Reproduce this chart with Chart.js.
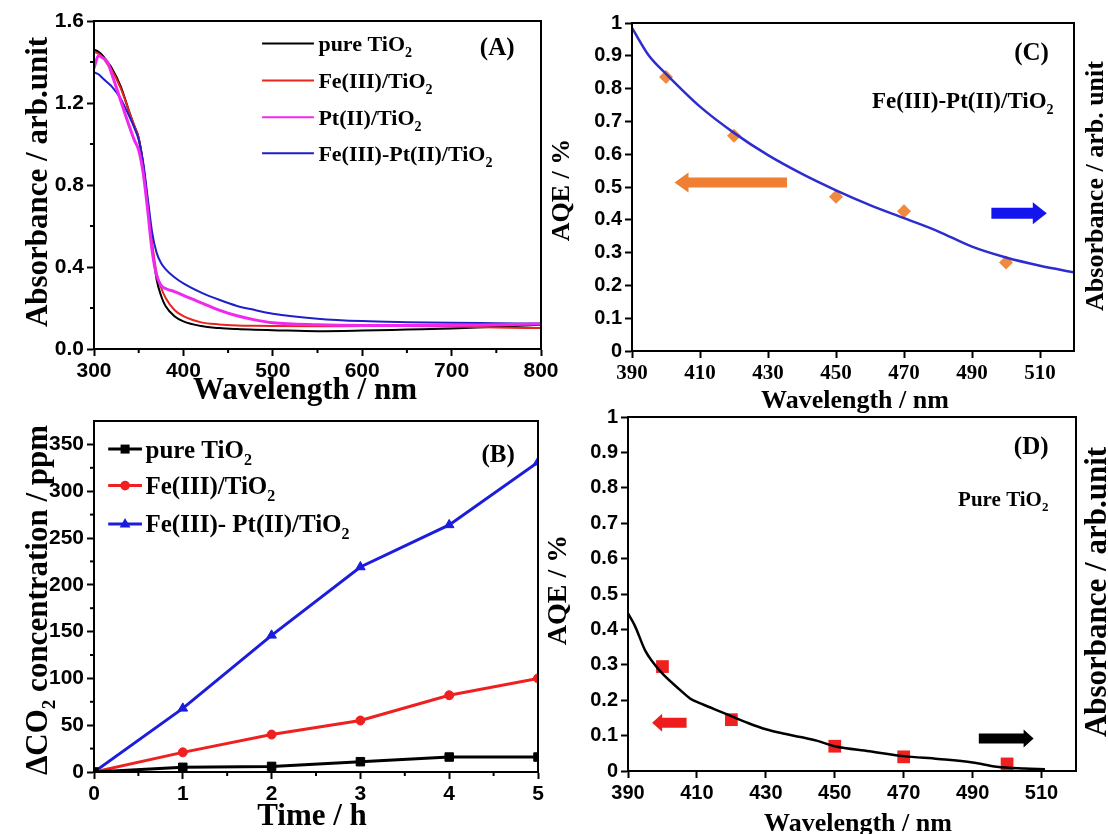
<!DOCTYPE html>
<html>
<head>
<meta charset="utf-8">
<script src="https://cdn.jsdelivr.net/npm/chart.js@4.4.1/dist/chart.umd.min.js"></script>
<style>
  html, body { margin: 0; padding: 0; background: #fff; }
  #wrap { position: relative; width: 1108px; height: 834px; overflow: hidden; background: #fff; }
  #wrap canvas { position: absolute; left: 0; top: 0; }
</style>
</head>
<body>
<div id="wrap">
  <canvas id="chartA" width="1108" height="834"></canvas>
  <canvas id="chartB" width="1108" height="834"></canvas>
  <canvas id="chartC" width="1108" height="834"></canvas>
  <canvas id="chartD" width="1108" height="834"></canvas>
</div>
<script>
const SANS = "'Liberation Sans', Arial, sans-serif";
const SERIF = "'Liberation Serif', 'Times New Roman', serif";

// (A) absorbance spectra
const wavelengthA = [300, 305, 310, 315, 320, 330, 340, 345, 350, 355, 360, 365, 370, 375, 380, 390, 400, 420, 440, 460, 480, 500, 550, 600, 650, 700, 750, 800];
const absPure = [1.46, 1.45, 1.43, 1.40, 1.37, 1.28, 1.15, 1.09, 1.03, 0.90, 0.70, 0.50, 0.34, 0.26, 0.21, 0.16, 0.135, 0.112, 0.102, 0.097, 0.094, 0.092, 0.087, 0.090, 0.095, 0.100, 0.108, 0.118];
const absFe = [1.45, 1.44, 1.42, 1.39, 1.36, 1.27, 1.15, 1.09, 1.03, 0.90, 0.72, 0.52, 0.37, 0.30, 0.25, 0.19, 0.16, 0.13, 0.12, 0.115, 0.113, 0.112, 0.111, 0.112, 0.112, 0.110, 0.105, 0.102];
const absPt = [1.37, 1.43, 1.42, 1.40, 1.34, 1.21, 1.08, 1.02, 0.97, 0.86, 0.68, 0.48, 0.36, 0.31, 0.295, 0.28, 0.262, 0.225, 0.19, 0.162, 0.142, 0.128, 0.118, 0.115, 0.115, 0.116, 0.118, 0.122];
const absFePt = [1.35, 1.34, 1.32, 1.30, 1.28, 1.22, 1.13, 1.08, 1.02, 0.91, 0.74, 0.57, 0.47, 0.42, 0.39, 0.35, 0.32, 0.275, 0.24, 0.21, 0.19, 0.172, 0.148, 0.136, 0.131, 0.128, 0.126, 0.124];
const ticksAX = [300, 400, 500, 600, 700, 800];
const minorAX = [350, 450, 550, 650, 750];
const ticksAY = [0, 0.4, 0.8, 1.2, 1.6];
const minorAY = [0.2, 0.6, 1.0, 1.4];

// (B) CO2 evolution
const timeB = [0, 1, 2, 3, 4, 5];
const co2Pure = [0, 5, 6, 11, 16, 16];
const co2Fe = [0, 21, 40, 55, 82, 100];
const co2FePt = [0, 68, 146, 219, 264, 331];
const ticksBX = [0, 1, 2, 3, 4, 5];
const minorBX = [0.5, 1.5, 2.5, 3.5, 4.5];
const ticksBY = [0, 50, 100, 150, 200, 250, 300, 350];
const minorBY = [25, 75, 125, 175, 225, 275, 325];

// (C) and (D) AQE vs wavelength
const aqeWavelength = [400, 420, 450, 470, 500];
const aqeFePt = [0.835, 0.656, 0.47, 0.426, 0.27];
const aqePure = [0.295, 0.145, 0.07, 0.04, 0.02];
const wavelengthC = [390, 395, 400, 410, 420, 430, 440, 450, 460, 470, 480, 490, 500, 510, 520];
const absCurveC = [0.985, 0.9, 0.845, 0.745, 0.665, 0.597, 0.54, 0.49, 0.445, 0.405, 0.365, 0.318, 0.285, 0.26, 0.24];
const wavelengthD = [390, 392, 395, 397, 400, 405, 408, 410, 415, 420, 425, 430, 435, 440, 445, 450, 460, 470, 480, 490, 497, 505, 511];
const absCurveD = [0.445, 0.41, 0.34, 0.31, 0.275, 0.23, 0.205, 0.195, 0.175, 0.155, 0.135, 0.118, 0.106, 0.096, 0.085, 0.07, 0.056, 0.042, 0.034, 0.024, 0.012, 0.007, 0.005];
const ticksWX = [390, 410, 430, 450, 470, 490, 510];
const ticksAqeY = [0, 0.1, 0.2, 0.3, 0.4, 0.5, 0.6, 0.7, 0.8, 0.9, 1];

const xy = (xs, ys) => xs.map((x, i) => ({ x: x, y: ys[i] }));

// text with "_2" style subscripts
function parseRich(s) {
  const parts = [];
  let buf = '';
  for (let i = 0; i < s.length; i++) {
    if (s[i] === '_' && i + 1 < s.length) {
      if (buf) parts.push({ t: buf });
      parts.push({ t: s[i + 1], sub: true });
      buf = '';
      i++;
    } else buf += s[i];
  }
  if (buf) parts.push({ t: buf });
  return parts;
}

function drawRich(ctx, s, x, y, size, align, family) {
  const parts = parseRich(s);
  const subSize = Math.round(size * 0.62);
  let w = 0;
  parts.forEach(p => {
    ctx.font = 'bold ' + (p.sub ? subSize : size) + 'px ' + (family || SERIF);
    p.w = ctx.measureText(p.t).width;
    w += p.w;
  });
  let cx = align === 'center' ? x - w / 2 : align === 'right' ? x - w : x;
  const base = y + size * 0.34;
  ctx.fillStyle = '#000';
  ctx.textBaseline = 'alphabetic';
  ctx.textAlign = 'left';
  parts.forEach(p => {
    ctx.font = 'bold ' + (p.sub ? subSize : size) + 'px ' + (family || SERIF);
    ctx.fillText(p.t, cx, p.sub ? base + size * 0.28 : base);
    cx += p.w;
  });
}

function drawMarker(ctx, style, x, y, r, color) {
  ctx.fillStyle = color;
  ctx.beginPath();
  if (style === 'rect') ctx.rect(x - r * 0.75, y - r * 0.75, r * 1.5, r * 1.5);
  else if (style === 'triangle') {
    ctx.moveTo(x, y - r);
    ctx.lineTo(x + r * 0.9, y + r * 0.6);
    ctx.lineTo(x - r * 0.9, y + r * 0.6);
    ctx.closePath();
  } else ctx.arc(x, y, r * 0.8, 0, Math.PI * 2);
  ctx.fill();
}

function drawArrow(ctx, xs, ys, a) {
  const tip = xs.getPixelForValue(a.tip);
  const tail = xs.getPixelForValue(a.tail);
  const py = ys.getPixelForValue(a.y);
  const dir = tip > tail ? 1 : -1;
  const neck = tip - dir * a.head;
  ctx.fillStyle = a.color;
  ctx.beginPath();
  ctx.moveTo(tail, py - a.body);
  ctx.lineTo(neck, py - a.body);
  ctx.lineTo(neck, py - a.half);
  ctx.lineTo(tip, py);
  ctx.lineTo(neck, py + a.half);
  ctx.lineTo(neck, py + a.body);
  ctx.lineTo(tail, py + a.body);
  ctx.closePath();
  ctx.fill();
}

const decor = {};

const decorPlugin = {
  id: 'decor',
  afterDatasetsDraw(chart) {
    const d = decor[chart.canvas.id];
    if (!d) return;
    const ctx = chart.ctx;
    const a = chart.chartArea;
    const xs = chart.scales.x, ys = chart.scales.y;
    ctx.save();
    // frame
    ctx.strokeStyle = '#000';
    ctx.lineWidth = 2;
    ctx.strokeRect(a.left, a.top, a.right - a.left, a.bottom - a.top);
    // minor ticks, outward
    (d.minorX || []).forEach(v => {
      const px = xs.getPixelForValue(v);
      ctx.beginPath(); ctx.moveTo(px, a.bottom); ctx.lineTo(px, a.bottom + 4); ctx.stroke();
    });
    (d.minorY || []).forEach(v => {
      const py = ys.getPixelForValue(v);
      ctx.beginPath(); ctx.moveTo(a.left, py); ctx.lineTo(a.left - 4, py); ctx.stroke();
    });
    // axis titles (page pixels)
    (d.titles || []).forEach(t => {
      if (t.rot) {
        ctx.save();
        ctx.translate(t.x, t.y);
        ctx.rotate(-Math.PI / 2);
        drawRich(ctx, t.s, 0, 0, t.size, 'center');
        ctx.restore();
      } else drawRich(ctx, t.s, t.x, t.y, t.size, 'center');
    });
    // in-plot texts (data units)
    (d.texts || []).forEach(t => {
      drawRich(ctx, t.s, xs.getPixelForValue(t.x), ys.getPixelForValue(t.y), t.size, t.align || 'center');
    });
    (d.arrows || []).forEach(ar => drawArrow(ctx, xs, ys, ar));
    // legend
    if (d.legend) {
      const L = d.legend;
      L.items.forEach((it, i) => {
        const py = ys.getPixelForValue(L.rows[i]);
        const x0 = xs.getPixelForValue(L.x0), x1 = xs.getPixelForValue(L.x1);
        ctx.strokeStyle = it.color;
        ctx.lineWidth = L.lineWidth;
        ctx.beginPath(); ctx.moveTo(x0, py); ctx.lineTo(x1, py); ctx.stroke();
        if (it.marker) drawMarker(ctx, it.marker, (x0 + x1) / 2, py, 6, it.color);
        drawRich(ctx, it.label, xs.getPixelForValue(L.tx), py, L.size, 'left');
      });
    }
    ctx.restore();
  }
};

function axis(o) {
  return {
    type: 'linear',
    min: o.min,
    max: o.max,
    afterBuildTicks: s => { s.ticks = o.ticks.map(v => ({ value: v })); },
    afterFit: s => { if (o.w) s.width = o.w; if (o.h) s.height = o.h; },
    grid: { display: true, drawOnChartArea: false, drawTicks: true, tickLength: 7, tickWidth: 2, tickColor: '#000' },
    border: { display: true, color: '#000', width: 2 },
    ticks: { color: '#000', font: o.font, padding: o.pad || 3, autoSkip: false, maxRotation: 0, callback: o.fmt }
  };
}

// area = page pixel box of the plot area
function makeChart(id, area, datasets, xAxis, yAxis) {
  const yw = 70, xh = 40;
  xAxis.h = xh;
  yAxis.w = yw;
  return new Chart(document.getElementById(id), {
    type: 'line',
    data: { datasets: datasets },
    options: {
      responsive: false,
      animation: false,
      devicePixelRatio: 1,
      layout: { padding: { left: area.l - yw, top: area.t, right: 1108 - area.r, bottom: 834 - area.b - xh } },
      plugins: { legend: { display: false }, tooltip: { enabled: false } },
      scales: { x: axis(xAxis), y: axis(yAxis) }
    },
    plugins: [decorPlugin]
  });
}

const tickSans = size => ({ family: SANS, size: size, weight: 'bold' });
const tickSerif = size => ({ family: SERIF, size: size, weight: 'bold' });
const fmt1 = v => Number(v).toFixed(1);
const fmtAqe = v => String(Math.round(v * 10) / 10);

const lineSet = (data, color, width) => ({
  data: data, borderColor: color, borderWidth: width, pointRadius: 0,
  fill: false, cubicInterpolationMode: 'monotone'
});

// ---------- (A) ----------
decor.chartA = {
  minorX: minorAX, minorY: minorAY,
  titles: [
    { s: 'Absorbance / arb.unit', x: 36, y: 182, rot: true, size: 31 },
    { s: 'Wavelength / nm', x: 305, y: 388, size: 31 }
  ],
  texts: [{ s: '(A)', x: 751, y: 1.474, size: 25 }],
  legend: {
    x0: 488, x1: 546, tx: 551, rows: [1.49, 1.31, 1.13, 0.955], size: 22, lineWidth: 2,
    items: [
      { label: 'pure TiO_2', color: '#000000' },
      { label: 'Fe(III)/TiO_2', color: '#e8241e' },
      { label: 'Pt(II)/TiO_2', color: '#f028f0' },
      { label: 'Fe(III)-Pt(II)/TiO_2', color: '#1f1fc8' }
    ]
  }
};
makeChart('chartA', { l: 94, t: 21, r: 541, b: 349 }, [
  lineSet(xy(wavelengthA, absPt), '#f028f0', 3),
  lineSet(xy(wavelengthA, absFePt), '#1f1fc8', 2),
  lineSet(xy(wavelengthA, absFe), '#e8241e', 2),
  lineSet(xy(wavelengthA, absPure), '#000000', 2)
], { min: 300, max: 800, ticks: ticksAX, font: tickSans(21) },
   { min: 0, max: 1.6, ticks: ticksAY, font: tickSans(21), fmt: fmt1 });

// ---------- (B) ----------
decor.chartB = {
  minorX: minorBX, minorY: minorBY,
  titles: [
    { s: 'ΔCO_2 concentration / ppm', x: 36, y: 600, rot: true, size: 31 },
    { s: 'Time / h', x: 312, y: 814, size: 31 }
  ],
  texts: [{ s: '(B)', x: 4.55, y: 340, size: 25 }],
  legend: {
    x0: 0.16, x1: 0.54, tx: 0.58, rows: [345, 306, 265], size: 25, lineWidth: 3,
    items: [
      { label: 'pure TiO_2', color: '#000000', marker: 'rect' },
      { label: 'Fe(III)/TiO_2', color: '#ee2020', marker: 'circle' },
      { label: 'Fe(III)- Pt(II)/TiO_2', color: '#1c1cdc', marker: 'triangle' }
    ]
  }
};
const markSet = (data, color, style, r) => ({
  data: data, borderColor: color, backgroundColor: color, borderWidth: 3,
  pointStyle: style, pointRadius: r, pointBorderWidth: 1, fill: false, tension: 0
});
makeChart('chartB', { l: 94, t: 421, r: 538, b: 772 }, [
  markSet(xy(timeB, co2Pure), '#000000', 'rect', 6),
  markSet(xy(timeB, co2Fe), '#ee2020', 'circle', 4.5),
  markSet(xy(timeB, co2FePt), '#1c1cdc', 'triangle', 5.5)
], { min: 0, max: 5, ticks: ticksBX, font: tickSans(21) },
   { min: 0, max: 375, ticks: ticksBY, font: tickSans(21) });

// ---------- (C) ----------
decor.chartC = {
  titles: [
    { s: 'AQE / %', x: 560, y: 190, rot: true, size: 26 },
    { s: 'Absorbance / arb. unit', x: 1094, y: 186, rot: true, size: 26 },
    { s: 'Wavelength / nm', x: 855, y: 399, size: 26 }
  ],
  texts: [
    { s: '(C)', x: 507.5, y: 0.913, size: 25 },
    { s: 'Fe(III)-Pt(II)/TiO_2', x: 514, y: 0.766, size: 23, align: 'right' }
  ],
  arrows: [
    { tail: 435.6, tip: 402.5, y: 0.514, body: 5, half: 10, head: 14, color: '#ef7f33' },
    { tail: 495.7, tip: 512, y: 0.42, body: 5.5, half: 11, head: 14, color: '#1414ee' }
  ]
};
makeChart('chartC', { l: 632, t: 23, r: 1074, b: 351 }, [
  lineSet(xy(wavelengthC, absCurveC), '#2d2dcf', 2.5),
  { data: xy(aqeWavelength, aqeFePt), showLine: false, pointStyle: 'rectRot', pointRadius: 7,
    backgroundColor: '#ef8a3e', borderColor: '#ef8a3e', pointBorderWidth: 0 }
], { min: 390, max: 520, ticks: ticksWX, font: tickSerif(21) },
   { min: 0, max: 1, ticks: ticksAqeY, font: tickSans(20), fmt: fmtAqe });

// ---------- (D) ----------
decor.chartD = {
  titles: [
    { s: 'AQE / %', x: 556, y: 590, rot: true, size: 28 },
    { s: 'Absorbance / arb.unit', x: 1095, y: 592, rot: true, size: 31 },
    { s: 'Wavelength / nm', x: 858, y: 822, size: 26 }
  ],
  texts: [
    { s: '(D)', x: 507, y: 0.92, size: 25 },
    { s: 'Pure TiO_2', x: 512, y: 0.77, size: 21, align: 'right' }
  ],
  arrows: [
    { tail: 407, tip: 397, y: 0.136, body: 5, half: 9, head: 10, color: '#ee1c1c' },
    { tail: 491.8, tip: 507.7, y: 0.0915, body: 5, half: 9, head: 10, color: '#000000' }
  ]
};
makeChart('chartD', { l: 628, t: 417, r: 1076, b: 771 }, [
  lineSet(xy(wavelengthD, absCurveD), '#000000', 2.5),
  { data: xy(aqeWavelength, aqePure), showLine: false, pointStyle: 'rect', pointRadius: 9,
    backgroundColor: '#ee2020', borderColor: '#ee2020', pointBorderWidth: 0 }
], { min: 390, max: 520, ticks: ticksWX, font: tickSans(20) },
   { min: 0, max: 1, ticks: ticksAqeY, font: tickSans(20), fmt: fmtAqe });
</script>
</body>
</html>
